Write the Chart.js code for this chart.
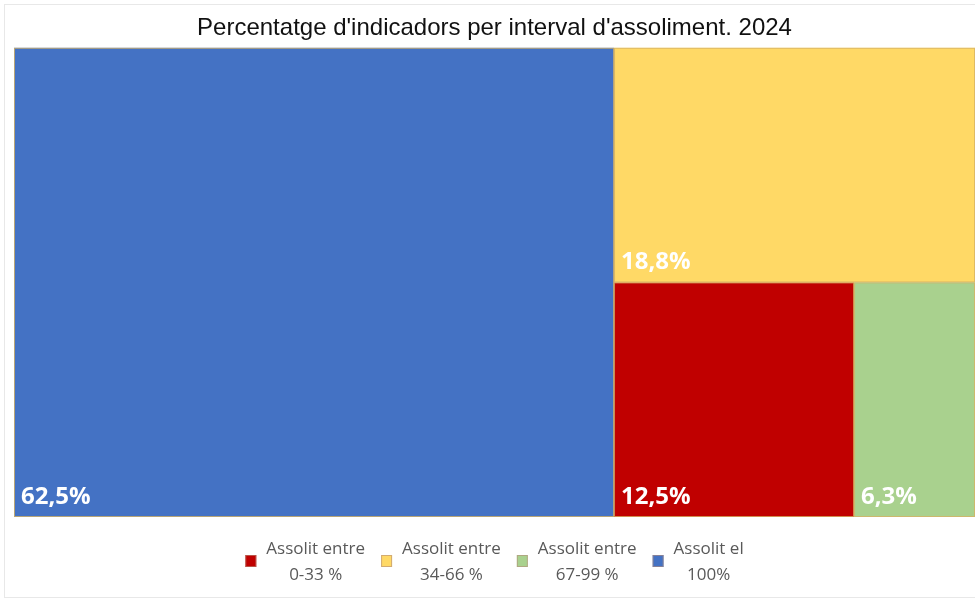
<!DOCTYPE html>
<html>
<head>
<meta charset="utf-8">
<script src="https://cdn.jsdelivr.net/npm/chart.js@4.4.1/dist/chart.umd.min.js"></script>
<style>
    html, body { margin: 0; padding: 0; background: #fff; }
</style>
</head>
<body>
<canvas id="myChart" width="975" height="601"></canvas>
<script>
const titleText = "Percentatge d'indicadors per interval d'assoliment. 2024";
const categories = [
    ['Assolit entre', '0-33 %'],
    ['Assolit entre', '34-66 %'],
    ['Assolit entre', '67-99 %'],
    ['Assolit el', '100%']
];
const percentages = [12.5, 18.8, 6.3, 62.5];
const colors = ['#C00000', '#FFD966', '#A9D18E', '#4472C4'];

const labelFont = 'bold 24px "Open Sans"';
const legendFont = '17px "Open Sans"';

// slice the unit square: biggest value first, cut along the longer side
function layoutTreemap(values, areaW, areaH) {
    let items = values.map((v, i) => ({ v: v, i: i })).sort((a, b) => b.v - a.v);
    let rect = { x0: 0, y0: 0, x1: 1, y1: 1 };
    let rest = values.reduce((a, b) => a + b, 0);
    let out = [];
    items.forEach((it, k) => {
        if (k === items.length - 1) {
            out[it.i] = Object.assign({}, rect);
            return;
        }
        let share = it.v / rest;
        let pw = (rect.x1 - rect.x0) * areaW;
        let ph = (rect.y1 - rect.y0) * areaH;
        if (pw >= ph) {
            let xm = rect.x0 + share * (rect.x1 - rect.x0);
            out[it.i] = { x0: rect.x0, y0: rect.y0, x1: xm, y1: rect.y1 };
            rect = { x0: xm, y0: rect.y0, x1: rect.x1, y1: rect.y1 };
        } else {
            let ym = rect.y0 + share * (rect.y1 - rect.y0);
            out[it.i] = { x0: rect.x0, y0: rect.y0, x1: rect.x1, y1: ym };
            rect = { x0: rect.x0, y0: ym, x1: rect.x1, y1: rect.y1 };
        }
        rest -= it.v;
    });
    return out;
}

const treemapPlugin = {
    id: 'treemap',
    beforeDraw(chart) {
        const ctx = chart.ctx;
        ctx.save();
        ctx.fillStyle = '#fff';
        ctx.fillRect(0, 0, chart.width, chart.height);
        ctx.strokeStyle = '#e8e8e8';
        ctx.lineWidth = 1;
        ctx.strokeRect(4.5, 4.5, chart.width + 10, chart.height - 8);
        ctx.restore();
    },
    afterDatasetsDraw(chart) {
        const ctx = chart.ctx;
        const xs = chart.scales.x;
        const ys = chart.scales.y;
        const area = chart.chartArea;
        const rects = layoutTreemap(percentages, area.right - area.left, area.bottom - area.top);

        ctx.save();
        rects.forEach((r, i) => {
            let left = xs.getPixelForValue(r.x0);
            let right = xs.getPixelForValue(r.x1);
            let top = ys.getPixelForValue(r.y0);
            let bottom = ys.getPixelForValue(r.y1);
            ctx.fillStyle = colors[i];
            ctx.fillRect(left, top, right - left, bottom - top);
            ctx.strokeStyle = 'rgba(214, 178, 100, 0.8)';
            ctx.lineWidth = 1;
            ctx.strokeRect(left + 0.5, top + 0.5, right - left - 1, bottom - top - 1);

            ctx.fillStyle = '#fff';
            ctx.font = labelFont;
            ctx.textAlign = 'left';
            ctx.textBaseline = 'alphabetic';
            let txt = percentages[i].toFixed(1).replace('.', ',') + '%';
            ctx.fillText(txt, left + 7, bottom - 13);
        });
        ctx.restore();
    },
    afterDraw(chart) {
        // legend: small square, two centred lines of text
        const ctx = chart.ctx;
        const area = chart.chartArea;
        ctx.save();
        ctx.font = legendFont;
        const boxW = 11, boxH = 12, gap = 10, spacing = 16;
        let widths = categories.map((c) => Math.max(...c.map((t) => ctx.measureText(t).width)));
        let total = widths.reduce((a, w) => a + boxW + gap + w, 0) + spacing * (categories.length - 1);
        let x = (area.left + area.right) / 2 - total / 2;
        const line1 = 549, line2 = 575;
        categories.forEach((c, i) => {
            ctx.fillStyle = colors[i];
            ctx.fillRect(x, 555, boxW, boxH);
            ctx.strokeStyle = 'rgba(180, 140, 120, 0.6)';
            ctx.lineWidth = 1;
            ctx.strokeRect(x + 0.5, 555.5, boxW - 1, boxH - 1);
            let cx = x + boxW + gap + widths[i] / 2;
            ctx.fillStyle = '#595959';
            ctx.textAlign = 'center';
            ctx.textBaseline = 'middle';
            ctx.fillText(c[0], cx, line1);
            ctx.fillText(c[1], cx, line2);
            x += boxW + gap + widths[i] + spacing;
        });
        ctx.restore();
    }
};

let config = {
    type: 'scatter',
    data: {
        datasets: categories.map((c, i) => ({
            label: c.join(' '),
            data: [],
            backgroundColor: colors[i]
        }))
    },
    options: {
        responsive: false,
        animation: false,
        layout: {
            padding: { left: 14, right: 0, top: 0, bottom: 84 }
        },
        scales: {
            x: { type: 'linear', min: 0, max: 1, display: false },
            y: { type: 'linear', min: 0, max: 1, reverse: true, display: false }
        },
        plugins: {
            legend: { display: false },
            tooltip: { enabled: false },
            title: {
                display: true,
                text: titleText,
                color: '#111',
                font: { family: '"Liberation Sans", Arial, sans-serif', size: 24, weight: 'normal' },
                padding: { top: 14, bottom: 5 }
            }
        }
    },
    plugins: [treemapPlugin]
};

let ctx = document.getElementById('myChart').getContext('2d');
var myChart = new Chart(ctx, config);
</script>
</body>
</html>
